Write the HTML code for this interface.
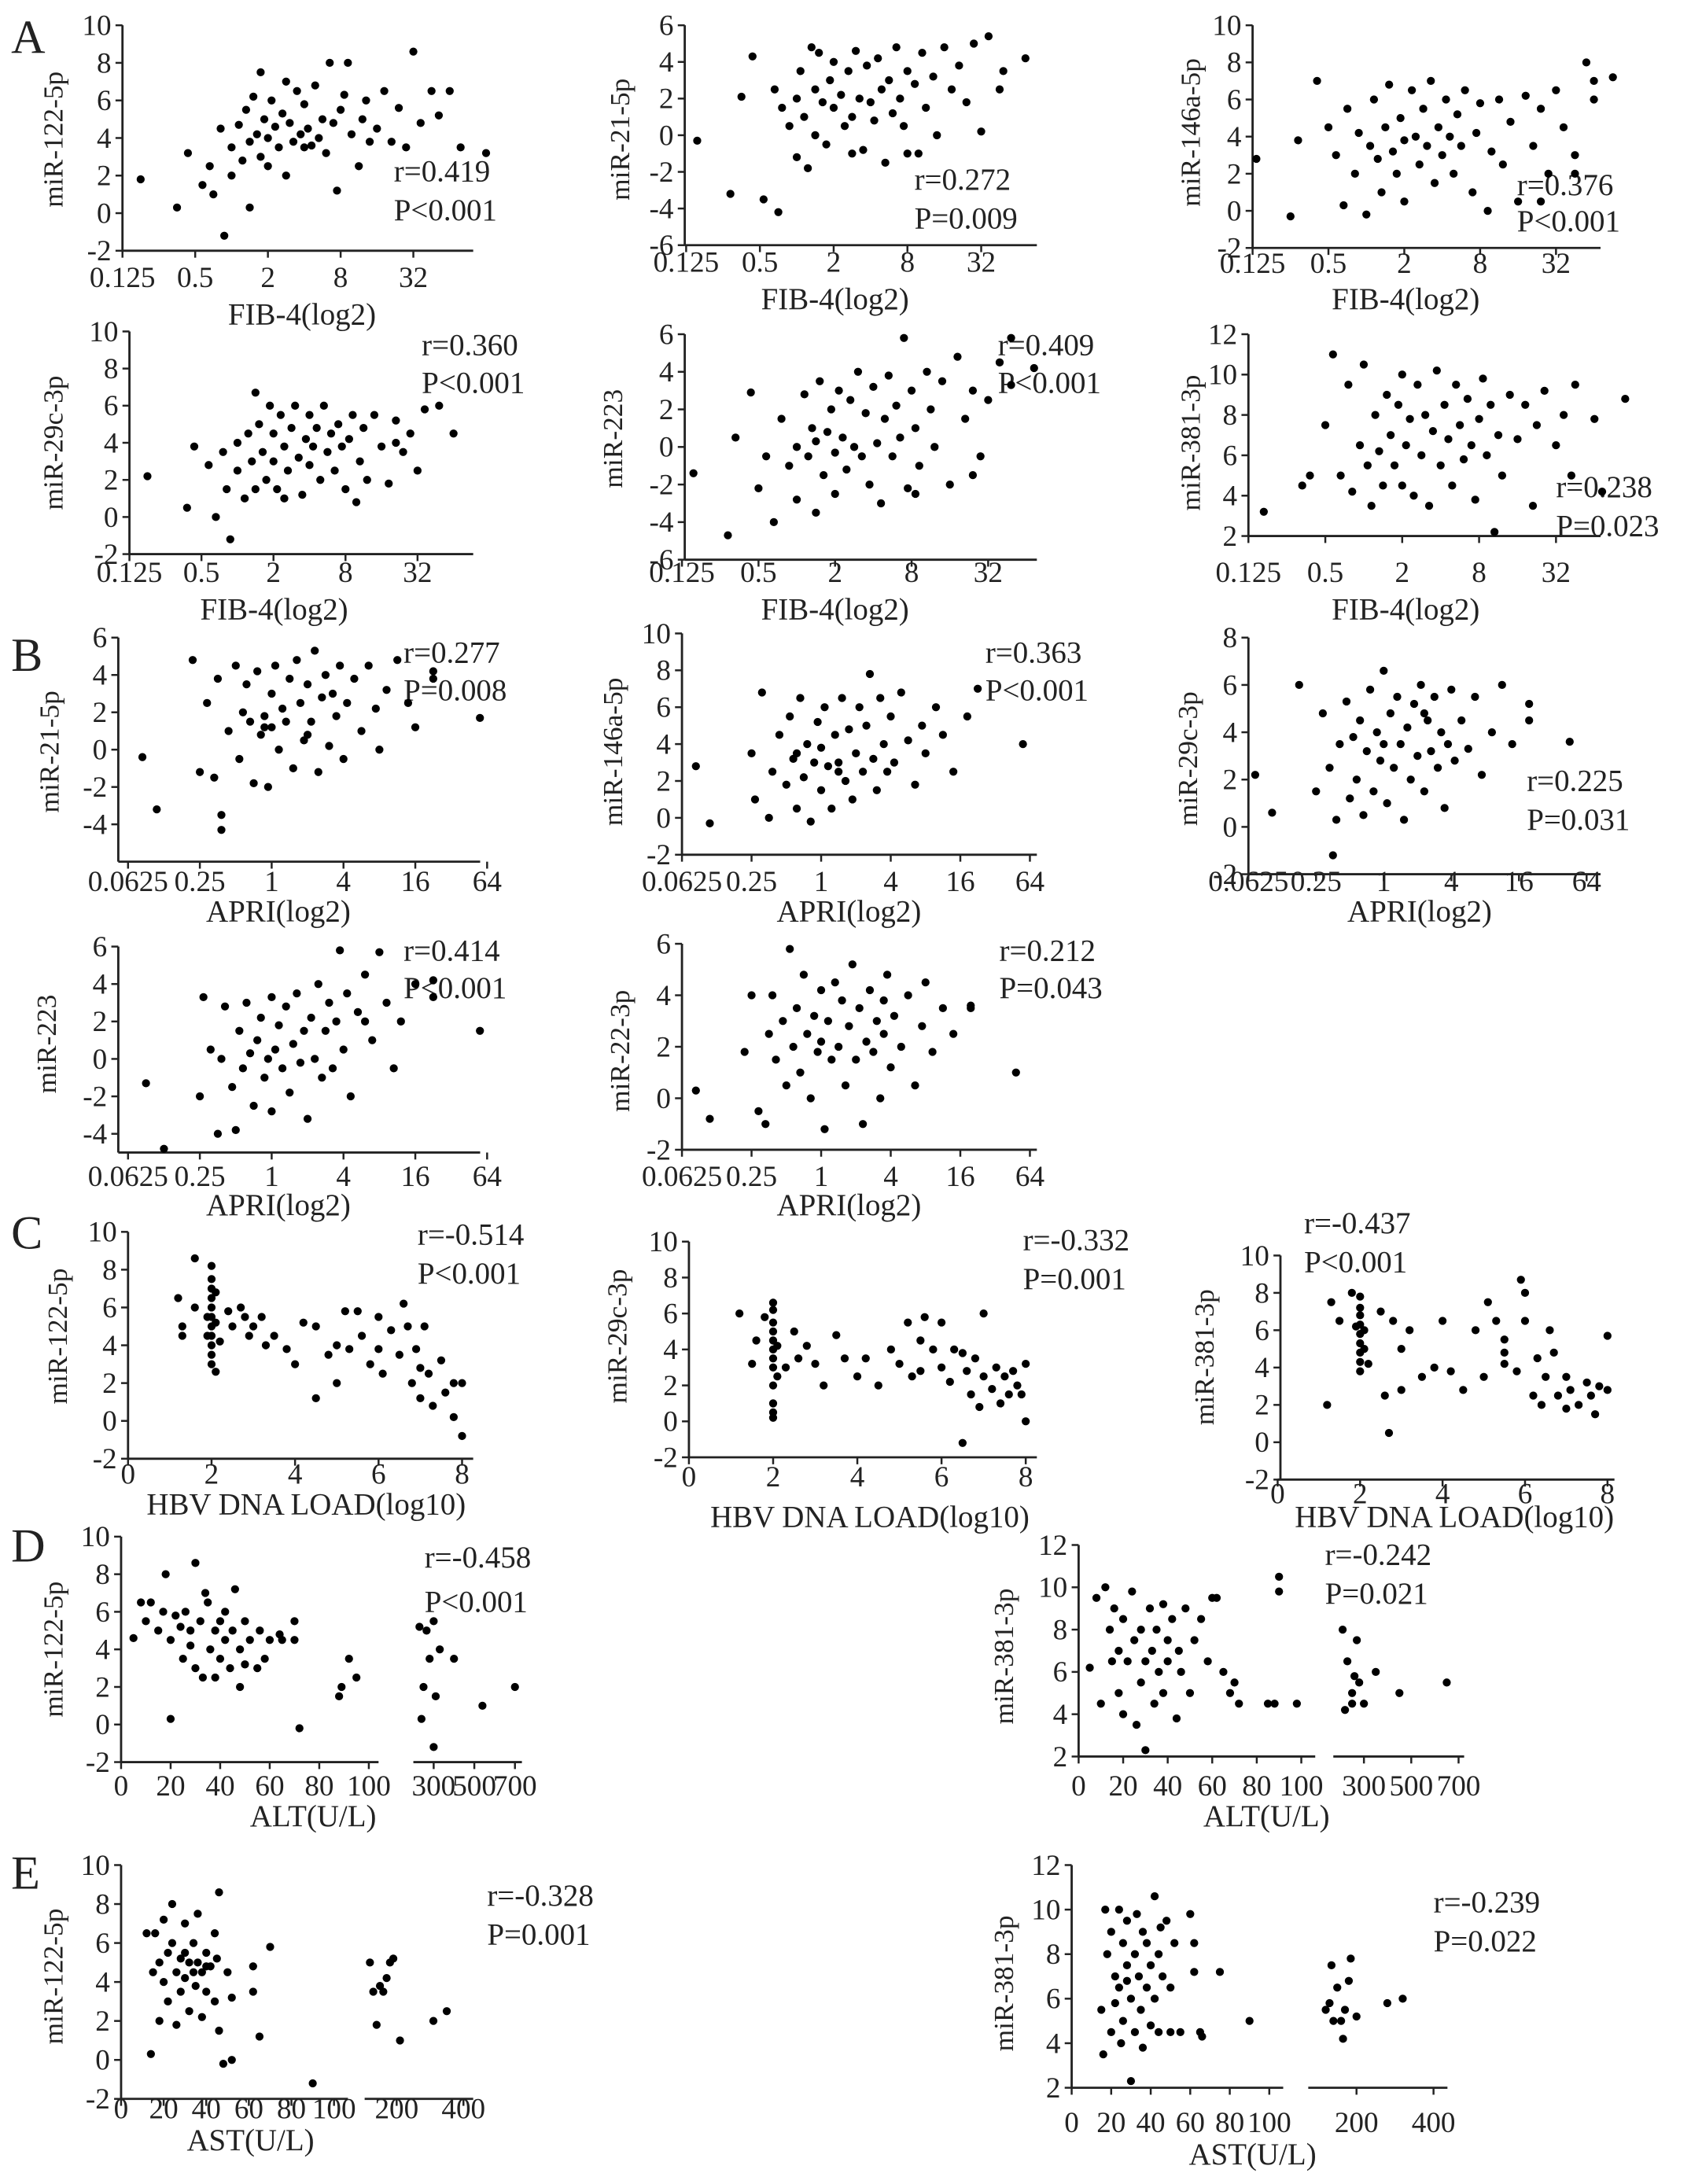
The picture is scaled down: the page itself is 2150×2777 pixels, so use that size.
<!DOCTYPE html>
<html><head><meta charset="utf-8"><style>
html,body{margin:0;padding:0;background:#fff}
svg{display:block}
text{font-family:"Liberation Serif",serif;fill:#222}
</style></head><body>
<svg id="fig" width="2150" height="2777" viewBox="0 0 1215 1569" xmlns="http://www.w3.org/2000/svg">
<text x="8" y="38" font-size="34">A</text>
<text x="8" y="482" font-size="34">B</text>
<text x="8" y="897" font-size="34">C</text>
<text x="8" y="1122" font-size="34">D</text>
<text x="8" y="1357" font-size="34">E</text>
</svg>
<script>
const fibLogTicks=[-3,-1,1,3,5];
const fibLogLabels=["0.125","0.5","2","8","32"];
const apriLogTicks=[-4,-2,0,2,4,6];
const apriLogLabels=["0.0625","0.25","1","4","16","64"];
const hbvTicks=[0,2,4,6,8];
const altTicks1=[0,20,40,60,80,100];
const altTicks2=[300,500,700];
const astTicks1=[0,20,40,60,80,100];
const astTicks2=[200,400];

const dataA1=[[-2.5,1.8],[-1.5,0.3],[-1.2,3.2],[-0.8,1.5],[-0.6,2.5],[-0.5,1],[-0.3,4.5],[-0.2,-1.2],[0,3.5],[0,2],[0.2,4.7],[0.3,2.8],[0.4,5.5],[0.5,3.8],[0.5,0.3],[0.6,6.2],[0.7,4.2],[0.8,7.5],[0.8,3],[0.9,5],[1,4],[1,2.5],[1.1,6],[1.2,4.6],[1.3,3.5],[1.4,5.3],[1.5,7],[1.5,2],[1.6,4.8],[1.7,3.8],[1.8,6.5],[1.9,4.2],[2,3.5],[2,5.8],[2.1,4.5],[2.2,3.6],[2.3,6.8],[2.4,4],[2.5,5],[2.6,3.2],[2.7,8],[2.8,4.8],[2.9,1.2],[3,5.5],[3.1,6.3],[3.2,8],[3.3,4.2],[3.5,2.5],[3.6,5],[3.7,6],[3.8,3.8],[4,4.5],[4.2,6.5],[4.4,3.8],[4.6,5.6],[4.8,3.5],[5,8.6],[5.2,4.8],[5.5,6.5],[5.7,5.2],[6,6.5],[6.3,3.5],[7,3.2]];
const dataA2=[[-2.7,-0.3],[-1.8,-3.2],[-1.5,2.1],[-1.2,4.3],[-0.9,-3.5],[-0.6,2.5],[-0.5,-4.2],[-0.4,1.5],[-0.2,0.5],[0,2],[0,-1.2],[0.1,3.5],[0.2,1],[0.3,-1.8],[0.4,4.8],[0.5,2.5],[0.5,0],[0.6,4.5],[0.7,1.8],[0.8,-0.5],[0.9,3],[1,1.5],[1,4],[1.2,2.2],[1.3,0.5],[1.4,3.5],[1.5,1],[1.6,4.6],[1.7,2],[1.8,-0.8],[1.9,3.8],[2,1.8],[2.1,0.8],[2.2,4.2],[2.3,2.5],[2.4,-1.5],[2.5,3],[2.6,1.2],[2.7,4.8],[2.8,2],[2.9,0.5],[3,3.5],[3.2,2.8],[3.3,-1],[3.4,4.5],[3.5,1.5],[3.7,3.2],[3.8,0],[4,4.8],[4.2,2.5],[4.4,3.8],[4.6,1.8],[4.8,5],[5,0.2],[5.2,5.4],[5.5,2.5],[5.6,3.5],[6.2,4.2],[3,-1],[1.5,-1]];
const dataA3=[[-2.9,2.8],[-2,-0.3],[-1.8,3.8],[-1.3,7],[-1,4.5],[-0.8,3],[-0.6,0.3],[-0.5,5.5],[-0.3,2],[-0.2,4.2],[0,-0.2],[0.1,3.5],[0.2,6],[0.3,2.8],[0.4,1],[0.5,4.5],[0.6,6.8],[0.7,3.2],[0.8,2],[0.9,5],[1,3.8],[1,0.5],[1.2,6.5],[1.3,4],[1.4,2.5],[1.5,5.5],[1.6,3.5],[1.7,7],[1.8,1.5],[1.9,4.5],[2,3],[2.1,6],[2.2,4],[2.3,2],[2.4,5.2],[2.5,3.5],[2.6,6.5],[2.8,1],[2.9,4.2],[3,5.8],[3.2,0],[3.3,3.2],[3.5,6],[3.6,2.5],[3.8,4.8],[4,0.5],[4.2,6.2],[4.4,3.5],[4.6,5.5],[4.8,2],[5,6.5],[5.2,4.5],[5.5,3],[5.8,8],[6,7],[6,6],[6.5,7.2],[4.6,0.5],[5.5,2]];
const dataA4=[[-2.5,2.2],[-1.4,0.5],[-1.2,3.8],[-0.8,2.8],[-0.6,0],[-0.4,3.5],[-0.3,1.5],[-0.2,-1.2],[0,4],[0,2.5],[0.2,1],[0.3,4.5],[0.4,3],[0.5,6.7],[0.5,1.5],[0.6,5],[0.7,3.5],[0.8,2],[0.9,6],[1,4.5],[1,3],[1.1,1.5],[1.2,5.5],[1.3,3.8],[1.4,2.5],[1.5,4.8],[1.6,6],[1.7,3.2],[1.8,1.2],[1.9,4.2],[2,5.5],[2,2.8],[2.1,3.8],[2.2,4.8],[2.3,2],[2.4,6],[2.5,3.5],[2.6,4.5],[2.7,2.5],[2.8,5],[2.9,3.8],[3,1.5],[3.1,4.2],[3.2,5.5],[3.4,3],[3.5,4.8],[3.6,2],[3.8,5.5],[4,3.8],[4.2,1.8],[4.4,5.2],[4.6,3.5],[4.8,4.5],[5,2.5],[5.2,5.8],[5.6,6],[6,4.5],[3.3,0.8],[1.3,1],[4.4,4]];
const dataA5=[[-2.7,-1.4],[-1.8,-4.7],[-1.6,0.5],[-1.2,2.9],[-1,-2.2],[-0.8,-0.5],[-0.6,-4],[-0.4,1.5],[-0.2,-1],[0,0],[0,-2.8],[0.2,2.8],[0.3,-0.5],[0.4,1],[0.5,-3.5],[0.5,0.3],[0.6,3.5],[0.7,-1.5],[0.8,0.8],[0.9,2],[1,-0.3],[1,-2.5],[1.1,3],[1.2,0.5],[1.3,-1.2],[1.4,2.5],[1.5,0],[1.6,4],[1.7,-0.5],[1.8,1.8],[1.9,-2],[2,3.2],[2.1,0.2],[2.2,-3],[2.3,1.5],[2.4,3.8],[2.5,-0.5],[2.6,2.2],[2.7,0.5],[2.8,5.8],[2.9,-2.2],[3,3],[3.1,1],[3.2,-1],[3.4,4],[3.5,2],[3.6,0],[3.8,3.5],[4,-2],[4.2,4.8],[4.4,1.5],[4.6,3],[4.8,-0.5],[5,2.5],[5.3,4.5],[5.6,5.8],[5.6,3.3],[6.2,4.2],[4.6,-1.5],[3.1,-2.5]];
const dataA6=[[-2.6,3.2],[-1.6,4.5],[-1.4,5],[-1,7.5],[-0.8,11],[-0.6,5],[-0.4,9.5],[-0.3,4.2],[-0.1,6.5],[0,10.5],[0.1,5.5],[0.2,3.5],[0.3,8],[0.4,6.2],[0.5,4.5],[0.6,9],[0.7,7],[0.8,5.5],[0.9,8.5],[1,4.5],[1,10],[1.1,6.5],[1.2,7.8],[1.3,4],[1.4,9.5],[1.5,6],[1.6,8],[1.7,3.5],[1.8,7.2],[1.9,10.2],[2,5.5],[2.1,8.5],[2.2,6.8],[2.3,4.5],[2.4,9.5],[2.5,7.5],[2.6,5.8],[2.7,8.8],[2.8,6.5],[2.9,3.8],[3,7.8],[3.1,9.8],[3.2,6],[3.3,8.5],[3.4,2.2],[3.5,7],[3.6,5],[3.8,9],[4,6.8],[4.2,8.5],[4.4,3.5],[4.5,7.5],[4.7,9.2],[5,6.5],[5.2,8],[5.4,5],[5.5,9.5],[6,7.8],[6.2,4.2],[6.8,8.8]];
const dataB1=[[-3.6,-0.4],[-3.2,-3.2],[-2.2,4.8],[-2,-1.2],[-1.8,2.5],[-1.6,-1.5],[-1.5,3.8],[-1.4,-3.5],[-1.4,-4.3],[-1.2,1],[-1,4.5],[-0.9,-0.5],[-0.8,2],[-0.7,3.5],[-0.6,1.5],[-0.5,-1.8],[-0.4,4.2],[-0.3,0.8],[-0.2,1.8],[-0.1,-2],[0,3],[0,1.2],[0.1,4.5],[0.2,0],[0.3,2.2],[0.4,1.5],[0.5,3.8],[0.6,-1],[0.7,4.8],[0.8,2.5],[0.9,0.5],[1,3.5],[1.1,1.5],[1.2,5.3],[1.3,-1.2],[1.4,2.8],[1.5,4],[1.6,0.2],[1.7,3],[1.8,1.8],[1.9,4.5],[2,-0.5],[2.1,2.5],[2.3,3.8],[2.5,1],[2.7,4.5],[2.9,2.2],[3,0],[3.2,3.2],[3.5,4.8],[3.8,2.5],[4,1.2],[4.5,3.8],[5.8,1.7],[4.5,4.2],[1,0.8],[-0.2,1.2]];
const dataB2=[[-3.6,2.8],[-3.2,-0.3],[-2,3.5],[-1.9,1],[-1.7,6.8],[-1.5,0],[-1.4,2.5],[-1.2,4.5],[-1,1.8],[-0.9,5.5],[-0.8,3.2],[-0.7,0.5],[-0.6,6.5],[-0.5,2.2],[-0.4,4],[-0.3,-0.2],[-0.2,3],[-0.1,5.2],[0,1.5],[0,3.8],[0.1,6],[0.2,2.8],[0.3,0.5],[0.4,4.5],[0.5,3],[0.6,6.5],[0.7,2],[0.8,4.8],[0.9,1],[1,3.5],[1.1,6],[1.2,2.5],[1.3,5],[1.4,7.8],[1.5,3.2],[1.6,1.5],[1.7,6.5],[1.8,4],[1.9,2.5],[2,5.5],[2.1,3],[2.3,6.8],[2.5,4.2],[2.7,1.8],[2.9,5],[3,3.5],[3.3,6],[3.5,4.5],[3.8,2.5],[4.2,5.5],[4.5,7],[5.8,4],[0.5,2.5],[-0.7,3.5]];
const dataB3=[[-3.8,2.2],[-3.3,0.6],[-2.5,6],[-2,1.5],[-1.8,4.8],[-1.6,2.5],[-1.5,-1.2],[-1.4,0.3],[-1.3,3.5],[-1.1,5.3],[-1,1.2],[-0.9,3.8],[-0.8,2],[-0.7,4.5],[-0.6,0.5],[-0.5,3.2],[-0.4,5.8],[-0.3,1.5],[-0.2,4],[-0.1,2.8],[0,6.6],[0,3.5],[0.1,1],[0.2,4.8],[0.3,2.5],[0.4,5.5],[0.5,3.5],[0.6,0.3],[0.7,4.2],[0.8,2],[0.9,5.2],[1,3],[1.1,6],[1.2,1.5],[1.3,4.5],[1.4,3.2],[1.5,5.5],[1.6,2.5],[1.7,4],[1.8,0.8],[1.9,3.5],[2,5.8],[2.1,2.8],[2.3,4.5],[2.5,3.3],[2.7,5.5],[2.9,2.2],[3.2,4],[3.5,6],[3.8,3.5],[4.3,5.2],[5.5,3.6],[4.3,4.5],[1.2,4.8]];
const dataB4=[[-3.5,-1.3],[-3,-4.8],[-2,-2],[-1.9,3.3],[-1.7,0.5],[-1.5,-4],[-1.4,0],[-1.3,2.8],[-1.1,-1.5],[-1,-3.8],[-0.9,1.5],[-0.8,-0.5],[-0.7,3],[-0.6,0.3],[-0.5,-2.5],[-0.4,1],[-0.3,2.2],[-0.2,-1],[-0.1,0],[0,3.3],[0,-2.8],[0.1,0.5],[0.2,1.8],[0.3,-0.5],[0.4,2.8],[0.5,-1.8],[0.6,0.8],[0.7,3.5],[0.8,-0.2],[0.9,1.5],[1,-3.2],[1.1,2.2],[1.2,0],[1.3,4],[1.4,-1],[1.5,1.5],[1.6,3],[1.7,-0.5],[1.8,2],[1.9,5.8],[2,0.5],[2.1,3.5],[2.2,-2],[2.4,2.5],[2.6,4.5],[2.8,1],[3,5.7],[3.2,3],[3.4,-0.5],[3.6,2],[4,4],[4.5,4.2],[4.5,3.3],[5.8,1.5],[2.6,2]];
const dataB5=[[-3.6,0.3],[-3.2,-0.8],[-2.2,1.8],[-2,4],[-1.8,-0.5],[-1.6,-1],[-1.5,2.5],[-1.4,4],[-1.3,1.5],[-1.1,3],[-1,0.5],[-0.9,5.8],[-0.8,2],[-0.7,3.5],[-0.6,1],[-0.5,4.8],[-0.4,2.5],[-0.3,0],[-0.2,3.2],[-0.1,1.8],[0,4.2],[0,2.2],[0.1,-1.2],[0.2,3],[0.3,1.5],[0.4,4.5],[0.5,2],[0.6,3.8],[0.7,0.5],[0.8,2.8],[0.9,5.2],[1,1.5],[1.1,3.5],[1.2,-1],[1.3,2.2],[1.4,4.2],[1.5,1.8],[1.6,3],[1.7,0],[1.8,2.5],[1.9,4.8],[2,1.2],[2.1,3.2],[2.3,2],[2.5,4],[2.7,0.5],[2.9,2.8],[3,4.5],[3.2,1.8],[3.5,3.5],[3.8,2.5],[4.3,3.6],[4.3,3.5],[5.6,1],[1.8,3.8]];
const dataC1=[[1.2,6.5],[1.3,5],[1.3,4.5],[1.6,8.6],[1.6,6],[1.9,5.5],[1.9,4.5],[2,8.2],[2,7.5],[2,7],[2,6.5],[2,6],[2,5.5],[2,5],[2,4.5],[2,4],[2,3.5],[2,3],[2.1,2.6],[2.1,5.2],[2.1,6.8],[2.2,4.2],[2.4,5.8],[2.5,5],[2.7,6],[2.8,5.5],[2.9,4.5],[3,5],[3.2,5.5],[3.3,4],[3.5,4.5],[3.8,3.8],[4,3],[4.2,5.2],[4.5,5],[4.8,3.5],[5,2],[5,4],[5.2,5.8],[5.3,3.8],[5.5,5.8],[5.6,4.5],[5.8,3],[6,5.5],[6,3.8],[6.1,2.5],[6.3,4.8],[6.5,3.5],[6.6,6.2],[6.7,5],[6.8,2],[6.9,3.8],[7,1.2],[7.1,5],[7.2,2.5],[7.3,0.8],[7.5,3.2],[7.6,1.5],[7.8,2],[7.8,0.2],[8,2],[8,-0.8],[7,2.8],[4.5,1.2]];
const dataC2=[[1.2,6],[1.5,3.2],[1.6,4.5],[1.8,5.8],[2,6.6],[2,6.2],[2,5.5],[2,5],[2,4.5],[2,4],[2,3.5],[2,3],[2,2],[2,1],[2,0.5],[2,0.2],[2.1,2.5],[2.1,4.2],[2.3,3],[2.5,5],[2.6,3.5],[2.8,4.2],[3,3.2],[3.2,2],[3.5,4.8],[3.7,3.5],[4,2.5],[4.2,3.5],[4.5,2],[4.8,4],[5,3.2],[5.2,5.5],[5.3,2.5],[5.5,4.5],[5.6,5.8],[5.8,4],[6,3],[6,5.5],[6.2,2.2],[6.3,4],[6.5,-1.2],[6.6,2.8],[6.7,1.5],[6.8,3.5],[6.9,0.8],[7,6],[7,2.5],[7.2,1.8],[7.3,3],[7.4,1],[7.5,2.5],[7.6,1.5],[7.7,2.8],[7.8,2],[7.9,1.5],[8,3.2],[8,0],[6.5,3.8],[5.5,2.8]];
const dataC3=[[1.2,2],[1.3,7.5],[1.5,6.5],[1.8,8],[1.9,6.2],[2,7.8],[2,7.2],[2,6.8],[2,6.3],[2,5.8],[2,5.3],[2,4.8],[2,4.3],[2,3.8],[2.1,5],[2.1,6],[2.2,4.2],[2.5,7],[2.6,2.5],[2.7,0.5],[2.8,6.5],[3,5],[3,2.8],[3.2,6],[3.5,3.5],[3.8,4],[4,6.5],[4.2,3.8],[4.5,2.8],[4.8,6],[5,3.5],[5.1,7.5],[5.3,6.5],[5.5,4.2],[5.5,5.5],[5.8,3.8],[5.9,8.7],[6,6.5],[6,8],[6.2,2.5],[6.3,4.5],[6.5,3.5],[6.6,6],[6.7,4.8],[6.8,2.5],[7,3.5],[7,1.8],[7.1,2.8],[7.3,2],[7.5,3.2],[7.6,2.5],[7.7,1.5],[7.8,3],[8,5.7],[8,2.8],[6.4,2],[5.5,4.8]];
const dataD1=[[5,4.6],[8,6.5],[10,5.5],[12,6.5],[15,5],[17,6],[18,8],[20,4.5],[20,0.3],[22,5.8],[24,5.2],[25,3.5],[26,6],[28,4.2],[28,5],[30,8.6],[30,3],[32,5.5],[33,2.5],[34,7],[35,6.5],[36,4],[38,5],[38,2.5],[40,5.5],[40,3.5],[42,6],[42,4.5],[44,3],[45,5],[46,7.2],[48,4],[48,2],[50,5.5],[50,3.2],[52,4.5],[55,3],[56,5],[58,3.5],[60,4.5],[64,4.8],[65,4.5],[70,5.5],[70,4.5],[72,-0.2],[88,1.5],[89,2],[92,3.5],[95,2.5],[230,5.2],[240,0.3],[250,2],[265,5],[280,3.5],[300,-1.2],[310,1.5],[330,4],[400,3.5],[540,1],[700,2],[300,5.5]];
const dataD2=[[5,6.2],[8,9.5],[10,4.5],[12,10],[14,8],[15,6.5],[16,9],[18,7],[18,5],[20,8.5],[20,4],[22,6.5],[24,9.8],[25,7.5],[26,3.5],[28,5.5],[28,8],[30,2.3],[30,6.5],[32,9],[33,7],[34,4.5],[35,8],[36,6],[38,9.2],[38,5],[40,7.5],[40,6.5],[42,8.5],[44,3.8],[45,7],[46,6],[48,9],[50,5],[52,7.5],[55,8.5],[58,6.5],[60,9.5],[62,9.5],[65,6],[68,5],[70,5.5],[72,4.5],[85,4.5],[88,4.5],[90,10.5],[90,9.8],[98,4.5],[210,8],[220,4.2],[230,6.5],[250,5],[260,5.8],[270,7.5],[280,5.5],[300,4.5],[350,6],[450,5],[650,5.5],[250,4.5]];
const dataE1=[[12,6.5],[14,0.3],[15,4.5],[16,6.5],[18,5],[18,2],[20,7.2],[20,4],[22,5.5],[22,3],[24,8],[24,6],[26,4.5],[26,1.8],[28,5.2],[28,3.5],[30,7],[30,4.2],[32,5],[32,2.5],[34,6],[34,4.5],[35,3.8],[36,7.5],[36,5],[38,4.5],[38,2.2],[40,5.5],[40,3.5],[42,4.8],[44,6.5],[44,3],[45,5.2],[46,8.6],[46,1.5],[48,-0.2],[50,4.5],[52,3.2],[52,0],[62,4.8],[62,3.5],[65,1.2],[70,5.8],[90,-1.2],[120,5],[130,3.5],[140,1.8],[150,3.8],[160,3.5],[180,5],[190,5.2],[210,1],[310,2],[350,2.5],[170,4.2],[30,5.5],[40,4.8]];
const dataE2=[[15,5.5],[16,3.5],[17,10],[18,8],[20,4.5],[20,9],[22,7],[22,5.8],[24,10],[24,6.5],[25,4],[26,8.5],[26,5],[28,9.5],[28,7.5],[30,2.3],[30,6],[32,8],[32,4.5],[33,9.8],[34,7],[35,5.5],[36,3.8],[36,9],[38,8.5],[38,6.5],[40,7.5],[40,4.8],[42,10.6],[42,6],[44,8],[44,4.5],[45,9.2],[46,7],[48,9.5],[50,6.5],[50,4.5],[52,8.5],[55,4.5],[60,9.8],[62,8.5],[62,7.2],[65,4.5],[66,4.3],[75,7.2],[90,5],[120,5.5],[130,5.8],[135,7.5],[140,5],[160,5],[165,4.2],[170,5.5],[180,6.8],[185,7.8],[200,5.2],[280,5.8],[320,6],[150,6.5],[28,6.8]];

const NS="http://www.w3.org/2000/svg";
const svg=document.getElementById('fig');
function mk(tag,attrs,parent){const e=document.createElementNS(NS,tag);for(const k in attrs)e.setAttribute(k,attrs[k]);(parent||svg).appendChild(e);return e;}
function seg(d0,d1,p0,p1,ls,le,ticks,labels){return {d0,d1,p0,p1,ls,le,ticks,labels:labels||ticks.map(String)};}
function yt(a,b){const r=[];for(let v=a;v<=b;v+=2)r.push(v);return r;}

const panels=[
 {id:'a1',ax:88,y0:-2,y1:10,py0:180,py1:18,yticks:yt(-2,10),segs:[seg(-3,5,88,297,88,340,fibLogTicks,fibLogLabels)],lblY:206,ttl:[217,233,'FIB-4(log2)'],ylab:[45,100,'miR-122-5p'],r:[283,130,'r=0.419'],p:[283,158,'P<0.001'],data:dataA1},
 {id:'a2',ax:492,y0:-6,y1:6,py0:176,py1:18,yticks:yt(-6,6),segs:[seg(-3,5,493,705,492,745,fibLogTicks,fibLogLabels)],lblY:195,ttl:[600,222,'FIB-4(log2)'],ylab:[452,100,'miR-21-5p'],r:[657,136,'r=0.272'],p:[657,164,'P=0.009'],data:dataA2},
 {id:'a3',ax:900,y0:-2,y1:10,py0:178,py1:18,yticks:yt(-2,10),segs:[seg(-3,5,900,1118,900,1150,fibLogTicks,fibLogLabels)],lblY:196,ttl:[1010,222,'FIB-4(log2)'],ylab:[862,95,'miR-146a-5p'],r:[1090,140,'r=0.376'],p:[1090,166,'P<0.001'],data:dataA3},
 {id:'a4',ax:93,y0:-2,y1:10,py0:398,py1:238,yticks:yt(-2,10),segs:[seg(-3,5,93,300,93,340,fibLogTicks,fibLogLabels)],lblY:418,ttl:[197,445,'FIB-4(log2)'],ylab:[45,318,'miR-29c-3p'],r:[303,255,'r=0.360'],p:[303,282,'P<0.001'],data:dataA4},
 {id:'a5',ax:492,y0:-6,y1:6,py0:402,py1:240,yticks:yt(-6,6),segs:[seg(-3,5,490,710,492,745,fibLogTicks,fibLogLabels)],lblY:418,ttl:[600,445,'FIB-4(log2)'],ylab:[447,315,'miR-223'],r:[717,255,'r=0.409'],p:[717,282,'P<0.001'],data:dataA5},
 {id:'a6',ax:897,y0:2,y1:12,py0:385,py1:240,yticks:yt(2,12),segs:[seg(-3,5,897,1118,897,1150,fibLogTicks,fibLogLabels)],lblY:418,ttl:[1010,445,'FIB-4(log2)'],ylab:[862,318,'miR-381-3p'],r:[1118,357,'r=0.238'],p:[1118,385,'P=0.023'],data:dataA6},
 {id:'b1',ax:85,y0:-6,y1:6,py0:619,py1:458,yticks:yt(-4,6),segs:[seg(-4,6,92,350,85,345,apriLogTicks,apriLogLabels)],lblY:640,ttl:[200,662,'APRI(log2)'],ylab:[42,540,'miR-21-5p'],r:[290,476,'r=0.277'],p:[290,503,'P=0.008'],data:dataB1},
 {id:'b2',ax:490,y0:-2,y1:10,py0:614,py1:455,yticks:yt(-2,10),segs:[seg(-4,6,490,740,490,745,apriLogTicks,apriLogLabels)],lblY:640,ttl:[610,662,'APRI(log2)'],ylab:[447,540,'miR-146a-5p'],r:[708,476,'r=0.363'],p:[708,503,'P<0.001'],data:dataB2},
 {id:'b3',ax:897,y0:-2,y1:8,py0:628,py1:458,yticks:yt(-2,8),segs:[seg(-4,6,897,1140,897,1150,apriLogTicks,apriLogLabels)],lblY:640,ttl:[1020,662,'APRI(log2)'],ylab:[860,545,'miR-29c-3p'],r:[1097,568,'r=0.225'],p:[1097,596,'P=0.031'],data:dataB3},
 {id:'b4',ax:85,y0:-5,y1:6,py0:828,py1:680,yticks:yt(-4,6),segs:[seg(-4,6,92,350,85,345,apriLogTicks,apriLogLabels)],lblY:852,ttl:[200,873,'APRI(log2)'],ylab:[40,750,'miR-223'],r:[290,690,'r=0.414'],p:[290,717,'P<0.001'],data:dataB4},
 {id:'b5',ax:490,y0:-2,y1:6,py0:826,py1:678,yticks:yt(-2,6),segs:[seg(-4,6,490,740,490,745,apriLogTicks,apriLogLabels)],lblY:852,ttl:[610,873,'APRI(log2)'],ylab:[452,755,'miR-22-3p'],r:[718,690,'r=0.212'],p:[718,717,'P=0.043'],data:dataB5},
 {id:'c1',ax:92,y0:-2,y1:10,py0:1048,py1:885,yticks:yt(-2,10),segs:[seg(0,8,92,332,92,340,hbvTicks)],lblY:1066,ttl:[220,1088,'HBV DNA LOAD(log10)'],ylab:[48,960,'miR-122-5p'],r:[300,894,'r=-0.514'],p:[300,922,'P<0.001'],data:dataC1},
 {id:'c2',ax:495,y0:-2,y1:10,py0:1047,py1:892,yticks:yt(-2,10),segs:[seg(0,8,495,737,495,745,hbvTicks)],lblY:1068,ttl:[625,1097,'HBV DNA LOAD(log10)'],ylab:[450,960,'miR-29c-3p'],r:[735,898,'r=-0.332'],p:[735,926,'P=0.001'],data:dataC2},
 {id:'c3',ax:920,y0:-2,y1:10,py0:1063,py1:902,yticks:yt(-2,10),segs:[seg(0,8,918,1155,918,1160,hbvTicks)],lblY:1080,ttl:[1045,1097,'HBV DNA LOAD(log10)'],ylab:[872,975,'miR-381-3p'],r:[937,886,'r=-0.437'],p:[937,914,'P<0.001'],data:dataC3},
 {id:'d1',ax:87,y0:-2,y1:10,py0:1266,py1:1104,yticks:yt(-2,10),segs:[seg(0,100,87,265,87,272,altTicks1),seg(200,700,297,370,297,375,altTicks2)],lblY:1290,ttl:[225,1312,'ALT(U/L)'],ylab:[45,1185,'miR-122-5p'],r:[305,1126,'r=-0.458'],p:[305,1158,'P<0.001'],data:dataD1},
 {id:'d2',ax:775,y0:2,y1:12,py0:1262,py1:1110,yticks:yt(2,12),segs:[seg(0,100,775,935,775,945,altTicks1),seg(200,700,963,1048,958,1052,altTicks2)],lblY:1290,ttl:[910,1312,'ALT(U/L)'],ylab:[728,1190,'miR-381-3p'],r:[952,1124,'r=-0.242'],p:[952,1152,'P=0.021'],data:dataD2},
 {id:'e1',ax:87,y0:-2,y1:10,py0:1508,py1:1340,yticks:yt(-2,10),segs:[seg(0,100,87,240,87,250,astTicks1),seg(100,400,261,333,262,340,astTicks2)],lblY:1522,ttl:[180,1545,'AST(U/L)'],ylab:[45,1420,'miR-122-5p'],r:[350,1369,'r=-0.328'],p:[350,1397,'P=0.001'],data:dataE1},
 {id:'e2',ax:770,y0:2,y1:12,py0:1500,py1:1340,yticks:yt(2,12),segs:[seg(0,100,770,912,770,922,astTicks1),seg(100,400,947,1030,940,1040,astTicks2)],lblY:1532,ttl:[900,1555,'AST(U/L)'],ylab:[728,1425,'miR-381-3p'],r:[1030,1374,'r=-0.239'],p:[1030,1402,'P=0.022'],data:dataE2}
];

panels.forEach(P=>{
  const g=mk('g',{});
  
  
  const yS=v=>P.py0+(v-P.y0)*(P.py1-P.py0)/(P.y1-P.y0);
  const xS=v=>{let s=P.segs[0];for(const q of P.segs){if(v>=q.d0)s=q;}return s.p0+(v-s.d0)*(s.p1-s.p0)/(s.d1-s.d0);};
  const yl=mk('line',{x1:P.ax,x2:P.ax,y1:P.py1,y2:P.py0,stroke:'#222','stroke-width':1.6},g);
  
  
  P.yticks.forEach(v=>{
    const y=yS(v);
    mk('line',{x1:P.ax-5,x2:P.ax,y1:y,y2:y,stroke:'#222','stroke-width':1.4},g);
    const t=mk('text',{x:P.ax-8,y:y+7,'text-anchor':'end','font-size':21},g);
    
    
    t.textContent=String(v);
  });
  P.segs.forEach(s=>{
    const xl=mk('line',{x1:s.ls,x2:s.le,y1:P.py0,y2:P.py0,stroke:'#222','stroke-width':1.6},g);
    
    
    s.ticks.forEach((v,i)=>{
      const x=s.p0+(v-s.d0)*(s.p1-s.p0)/(s.d1-s.d0);
      mk('line',{x1:x,x2:x,y1:P.py0,y2:P.py0+5,stroke:'#222','stroke-width':1.4},g);
      const t=mk('text',{x:x,y:P.lblY,'text-anchor':'middle','font-size':21},g);
      
      
      t.textContent=s.labels[i];
    });
  });
  const tt=mk('text',{x:P.ttl[0],y:P.ttl[1],'text-anchor':'middle','font-size':22},g);
  
  
  tt.textContent=P.ttl[2];
  const yt2=mk('text',{x:P.ylab[0],y:P.ylab[1],'text-anchor':'middle','font-size':20,transform:'rotate(-90 '+P.ylab[0]+' '+P.ylab[1]+')'},g);
  
  
  yt2.textContent=P.ylab[2];
  const rt=mk('text',{x:P.r[0],y:P.r[1],'font-size':22},g);
  
  
  rt.textContent=P.r[2];
  const pt=mk('text',{x:P.p[0],y:P.p[1],'font-size':22},g);
  
  
  pt.textContent=P.p[2];
  P.data.forEach(d=>{
    const c=mk('circle',{cx:xS(d[0]),cy:yS(d[1]),r:2.9,fill:'#000'},g);
    
    
  });
});
</script>
</body></html>
